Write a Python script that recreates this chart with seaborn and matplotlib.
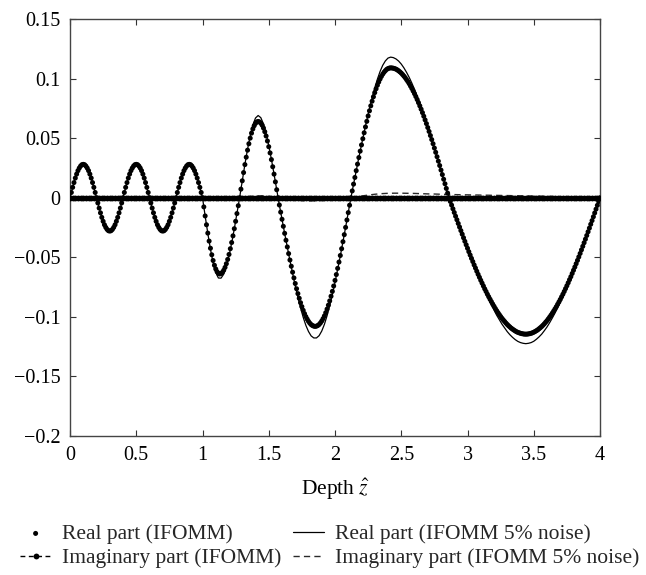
import numpy as np
import matplotlib
matplotlib.use("Agg")
import matplotlib.pyplot as plt
import seaborn as sns

# ---------------- data ----------------
# Real part (IFOMM), depth 0.00 .. 4.00, step 0.01
real_ifomm = [
    # 0.00 - 0.99
    0.0, 0.0044, 0.0087, 0.0127, 0.0165, 0.0198, 0.0227, 0.0249, 0.0266, 0.0277,
    0.0280, 0.0277, 0.0266, 0.0249, 0.0227, 0.0198, 0.0165, 0.0127, 0.0087, 0.0044,
    0.0, -0.0044, -0.0087, -0.0127, -0.0165, -0.0198, -0.0227, -0.0249, -0.0266, -0.0277,
    -0.0280, -0.0277, -0.0266, -0.0249, -0.0227, -0.0198, -0.0165, -0.0127, -0.0087, -0.0044,
    0.0, 0.0044, 0.0087, 0.0127, 0.0165, 0.0198, 0.0227, 0.0249, 0.0266, 0.0277,
    0.0280, 0.0277, 0.0266, 0.0249, 0.0227, 0.0198, 0.0165, 0.0127, 0.0087, 0.0044,
    0.0, -0.0044, -0.0087, -0.0127, -0.0165, -0.0198, -0.0227, -0.0249, -0.0266, -0.0277,
    -0.0280, -0.0277, -0.0266, -0.0249, -0.0227, -0.0198, -0.0165, -0.0127, -0.0087, -0.0044,
    0.0, 0.0044, 0.0087, 0.0127, 0.0165, 0.0198, 0.0227, 0.0249, 0.0266, 0.0277,
    0.0280, 0.0277, 0.0266, 0.0249, 0.0227, 0.0198, 0.0165, 0.0127, 0.0087, 0.0044,
    # 1.00
    0.0,
    # 1.01 - 1.28
    -0.0077, -0.0153, -0.0227, -0.0297, -0.0364, -0.0424, -0.0479, -0.0527, -0.0567, -0.0598,
    -0.0621, -0.0635, -0.0640,
    -0.0636, -0.0626, -0.0609, -0.0585, -0.0554, -0.0518, -0.0476, -0.0428, -0.0376, -0.0320,
    -0.0260, -0.0198, -0.0133, -0.0067, 0.0,
    # 1.29 - 1.57
    0.0072, 0.0142, 0.0211, 0.0278, 0.0340, 0.0399, 0.0453, 0.0500, 0.0542, 0.0577,
    0.0604, 0.0624, 0.0636, 0.0640,
    0.0636, 0.0626, 0.0609, 0.0585, 0.0554, 0.0518, 0.0476, 0.0428, 0.0376, 0.0320,
    0.0260, 0.0198, 0.0133, 0.0067, 0.0,
    # 1.58 - 2.12
    -0.0061, -0.0121, -0.0181, -0.0240, -0.0299, -0.0357, -0.0413, -0.0469, -0.0523, -0.0575,
    -0.0625, -0.0673, -0.0720, -0.0764, -0.0805, -0.0844, -0.0881, -0.0914, -0.0945, -0.0973,
    -0.0998, -0.1019, -0.1038, -0.1053, -0.1065, -0.1073, -0.1078, -0.1080,
    -0.1078, -0.1073, -0.1064, -0.1051, -0.1035, -0.1015, -0.0992, -0.0965, -0.0935, -0.0902,
    -0.0866, -0.0827, -0.0786, -0.0741, -0.0694, -0.0645, -0.0593, -0.0540, -0.0485, -0.0428,
    -0.0369, -0.0310, -0.0249, -0.0187, -0.0125, -0.0063, 0.0,
    # 2.13 - 2.86
    0.0057, 0.0114, 0.0170, 0.0227, 0.0282, 0.0337, 0.0391, 0.0443, 0.0495, 0.0545,
    0.0594, 0.0641, 0.0686, 0.0729, 0.0771, 0.0810, 0.0847, 0.0882, 0.0914, 0.0944,
    0.0971, 0.0996, 0.1018, 0.1037, 0.1053, 0.1066, 0.1077, 0.1084, 0.1088, 0.1090,
    0.1089, 0.1087, 0.1084, 0.1079, 0.1073, 0.1065, 0.1056, 0.1046, 0.1034, 0.1021,
    0.1007, 0.0991, 0.0975, 0.0957, 0.0937, 0.0917, 0.0895, 0.0873, 0.0849, 0.0824,
    0.0798, 0.0771, 0.0743, 0.0714, 0.0684, 0.0653, 0.0622, 0.0589, 0.0556, 0.0522,
    0.0488, 0.0453, 0.0417, 0.0381, 0.0344, 0.0307, 0.0270, 0.0232, 0.0194, 0.0155,
    0.0117, 0.0078, 0.0039, 0.0,
    # 2.87 - 4.00
    -0.0031, -0.0062, -0.0093, -0.0124, -0.0155, -0.0185, -0.0216, -0.0246, -0.0276, -0.0306,
    -0.0336, -0.0366, -0.0395, -0.0424, -0.0453, -0.0481, -0.0509, -0.0536, -0.0564, -0.0590,
    -0.0617, -0.0643, -0.0668, -0.0693, -0.0717, -0.0741, -0.0765, -0.0787, -0.0810, -0.0831,
    -0.0852, -0.0872, -0.0892, -0.0911, -0.0930, -0.0948, -0.0965, -0.0981, -0.0997, -0.1012,
    -0.1026, -0.1039, -0.1052, -0.1064, -0.1075, -0.1085, -0.1095, -0.1103, -0.1111, -0.1118,
    -0.1125, -0.1130, -0.1134, -0.1138, -0.1141, -0.1143, -0.1145, -0.1145,
    -0.1145, -0.1143, -0.1141, -0.1138, -0.1134, -0.1129, -0.1123, -0.1116, -0.1109, -0.1100,
    -0.1091, -0.1081, -0.1070, -0.1058, -0.1045, -0.1032, -0.1017, -0.1002, -0.0986, -0.0969,
    -0.0952, -0.0934, -0.0915, -0.0895, -0.0875, -0.0854, -0.0832, -0.0810, -0.0787, -0.0763,
    -0.0739, -0.0714, -0.0688, -0.0663, -0.0636, -0.0609, -0.0582, -0.0554, -0.0526, -0.0497,
    -0.0468, -0.0438, -0.0408, -0.0378, -0.0348, -0.0317, -0.0286, -0.0255, -0.0223, -0.0192,
    -0.0160, -0.0128, -0.0096, -0.0064, -0.0032, 0.0,
]

# Real part (IFOMM 5% noise), depth 0.00 .. 4.00, step 0.02
real_noise = [
    0.0, 0.0087, 0.0165, 0.0227, 0.0266, 0.0281, 0.0266, 0.0227, 0.0165, 0.0087,
    0.0, -0.0087, -0.0165, -0.0227, -0.0266, -0.0281, -0.0266, -0.0227, -0.0165, -0.0087,
    0.0, 0.0087, 0.0165, 0.0227, 0.0266, 0.0281, 0.0266, 0.0227, 0.0165, 0.0087,
    0.0, -0.0087, -0.0165, -0.0227, -0.0266, -0.0281, -0.0266, -0.0227, -0.0165, -0.0087,
    0.0, 0.0087, 0.0165, 0.0227, 0.0266, 0.0281, 0.0266, 0.0227, 0.0165, 0.0087,
    0.0,
    -0.0153, -0.0299, -0.0432, -0.0545, -0.0628, -0.0674, -0.0675, -0.0642, -0.0576, -0.0488,
    -0.0381, -0.0261, -0.0133, 0.0,
    0.0142, 0.0280, 0.0407, 0.0519, 0.0610, 0.0669, 0.0690, 0.0672, 0.0620, 0.0539,
    0.0438, 0.0323, 0.0198, 0.0067,
    -0.0061, -0.0181, -0.0300, -0.0415, -0.0528, -0.0636, -0.0740, -0.0836, -0.0925, -0.1004,
    -0.1071, -0.1123, -0.1160, -0.1177, -0.1177, -0.1158, -0.1119, -0.1063, -0.0991, -0.0907,
    -0.0814, -0.0711, -0.0602, -0.0489, -0.0370, -0.0249, -0.0125, 0.0,
    0.0114, 0.0227, 0.0338, 0.0445, 0.0551, 0.0652, 0.0747, 0.0837, 0.0921, 0.0995,
    0.1059, 0.1111, 0.1148, 0.1172, 0.1180,
    0.1176, 0.1165, 0.1147, 0.1122, 0.1090, 0.1052, 0.1010, 0.0962, 0.0910, 0.0853,
    0.0794, 0.0731, 0.0665, 0.0597, 0.0527, 0.0456, 0.0382, 0.0307, 0.0232, 0.0155,
    0.0078, 0.0,
    -0.0062, -0.0124, -0.0185, -0.0246, -0.0306, -0.0367, -0.0426, -0.0483, -0.0540, -0.0596,
    -0.0651, -0.0704, -0.0755, -0.0805, -0.0853, -0.0899, -0.0943, -0.0986, -0.1024, -0.1061,
    -0.1093, -0.1124, -0.1150, -0.1172, -0.1191, -0.1206, -0.1216, -0.1222, -0.1225,
    -0.1222, -0.1216, -0.1205, -0.1188, -0.1168, -0.1145, -0.1116, -0.1085, -0.1049, -0.1010,
    -0.0969, -0.0925, -0.0879, -0.0830, -0.0779, -0.0726, -0.0672, -0.0615, -0.0558, -0.0500,
    -0.0440, -0.0379, -0.0317, -0.0255, -0.0192, -0.0128, -0.0064, 0.0,
]

# Imaginary part (IFOMM), depth 0.00 .. 4.00, step 0.02
imag_ifomm = [
    0.0, 0.0, 0.0, 0.0, 0.0, 0.0, 0.0, 0.0, 0.0, 0.0, 0.0, 0.0, 0.0, 0.0, 0.0, 0.0, 0.0, 0.0, 0.0, 0.0,
    0.0, 0.0, 0.0, 0.0, 0.0, 0.0, 0.0, 0.0, 0.0, 0.0, 0.0, 0.0, 0.0, 0.0, 0.0, 0.0, 0.0, 0.0, 0.0, 0.0,
    0.0, 0.0, 0.0, 0.0, 0.0, 0.0, 0.0, 0.0, 0.0, 0.0, 0.0, 0.0, 0.0, 0.0, 0.0, 0.0, 0.0, 0.0, 0.0, 0.0,
    0.0, 0.0, 0.0, 0.0, 0.0, 0.0, 0.0, 0.0, 0.0, 0.0, 0.0, 0.0, 0.0, 0.0, 0.0, 0.0, 0.0, 0.0, 0.0, 0.0,
    0.0, 0.0, 0.0, 0.0, 0.0, 0.0, 0.0, 0.0, 0.0, 0.0, 0.0, 0.0, 0.0, 0.0, 0.0, 0.0, 0.0, 0.0, 0.0, 0.0,
    0.0, 0.0, 0.0, 0.0, 0.0, 0.0, 0.0, 0.0, 0.0, 0.0, 0.0, 0.0, 0.0, 0.0, 0.0, 0.0, 0.0, 0.0, 0.0, 0.0,
    0.0, 0.0, 0.0, 0.0, 0.0, 0.0, 0.0, 0.0, 0.0, 0.0, 0.0, 0.0, 0.0, 0.0, 0.0, 0.0, 0.0, 0.0, 0.0, 0.0,
    0.0, 0.0, 0.0, 0.0, 0.0, 0.0, 0.0, 0.0, 0.0, 0.0, 0.0, 0.0, 0.0, 0.0, 0.0, 0.0, 0.0, 0.0, 0.0, 0.0,
    0.0, 0.0, 0.0, 0.0, 0.0, 0.0, 0.0, 0.0, 0.0, 0.0, 0.0, 0.0, 0.0, 0.0, 0.0, 0.0, 0.0, 0.0, 0.0, 0.0,
    0.0, 0.0, 0.0, 0.0, 0.0, 0.0, 0.0, 0.0, 0.0, 0.0, 0.0, 0.0, 0.0, 0.0, 0.0, 0.0, 0.0, 0.0, 0.0, 0.0,
    0.0,
]

# Imaginary part (IFOMM 5% noise), depth 0.00 .. 4.00, step 0.05
imag_noise = [
    0.0, 0.0, 0.0, 0.0, 0.0, 0.0, 0.0, 0.0, 0.0, 0.0,
    0.0, 0.0, 0.0, 0.0, 0.0, 0.0, 0.0, 0.0, 0.0, 0.0,
    0.0, -0.0005, -0.0010, -0.0012, -0.0010, -0.0004, 0.0003, 0.0010, 0.0015, 0.0016,
    0.0012, 0.0004, -0.0006, -0.0014, -0.0020, -0.0024, -0.0026, -0.0026, -0.0024, -0.0020,
    -0.0014, -0.0008, -0.0002, 0.0005, 0.0014, 0.0022, 0.0029, 0.0034, 0.0037, 0.0038,
    0.0038, 0.0037, 0.0036, 0.0034, 0.0032, 0.0031, 0.0029, 0.0028, 0.0026, 0.0025,
    0.0024, 0.0023, 0.0022, 0.0021, 0.0020, 0.0019, 0.0018, 0.0017, 0.0016, 0.0015,
    0.0014, 0.0013, 0.0011, 0.0010, 0.0008, 0.0007, 0.0005, 0.0004, 0.0003, 0.0001,
    0.0,
]

depth_min, depth_max = 0.0, 4.0
x_ticks = [0, 0.5, 1, 1.5, 2, 2.5, 3, 3.5, 4]
x_tick_labels = ["0", "0.5", "1", "1.5", "2", "2.5", "3", "3.5", "4"]
y_ticks = [-0.2, -0.15, -0.1, -0.05, 0, 0.05, 0.1, 0.15]
y_tick_labels = ["\u22120.2", "\u22120.15", "\u22120.1", "\u22120.05", "0", "0.05", "0.1", "0.15"]
series_labels = ["Real part (IFOMM)", "Imaginary part (IFOMM)",
                 "Real part (IFOMM 5% noise)", "Imaginary part (IFOMM 5% noise)"]

assert len(real_ifomm) == 401, len(real_ifomm)
assert len(real_noise) == 201, len(real_noise)
assert len(imag_ifomm) == 201, len(imag_ifomm)
assert len(imag_noise) == 81, len(imag_noise)

# ---------------- figure ----------------
sns.set_theme(style="ticks")
plt.rcParams["font.family"] = ["Liberation Serif", "DejaVu Serif"]
plt.rcParams["mathtext.fontset"] = "stix"
plt.rcParams["axes.unicode_minus"] = True

W, H = 646, 575
fig = plt.figure(figsize=(W / 100, H / 100), dpi=100)
fig.patch.set_facecolor("white")
ax = fig.add_axes([70 / W, 1 - 436 / H, 530 / W, 417 / H])
ax.set_facecolor("white")

d_real = np.linspace(depth_min, depth_max, len(real_ifomm))
d_real_n = np.linspace(depth_min, depth_max, len(real_noise))
d_imag = np.linspace(depth_min, depth_max, len(imag_ifomm))
d_imag_n = np.linspace(depth_min, depth_max, len(imag_noise))

sns.lineplot(x=d_imag_n, y=imag_noise, ax=ax, color="#2a2a2a", lw=1.0,
             linestyle=(0, (4.5, 3)), label=series_labels[3], zorder=2)
sns.lineplot(x=d_real_n, y=real_noise, ax=ax, color="black", lw=0.9,
             label=series_labels[2], zorder=3)
sns.lineplot(x=d_imag, y=imag_ifomm, ax=ax, color="black", lw=1.0,
             linestyle=(0, (3.5, 2.5)), marker="o", markersize=4.2,
             markeredgewidth=0, markerfacecolor="black",
             label=series_labels[1], zorder=4)
sns.scatterplot(x=d_real, y=real_ifomm, ax=ax, color="black", s=13,
                linewidth=0, edgecolor="none", label=series_labels[0], zorder=5)

if ax.get_legend() is not None:
    ax.get_legend().remove()

ax.set_xlim(depth_min, depth_max)
ax.set_ylim(-0.2, 0.15)
ax.set_xticks(x_ticks)
ax.set_xticklabels(x_tick_labels)
ax.set_yticks(y_ticks)
ax.set_yticklabels(y_tick_labels)
ax.tick_params(direction="in", length=4, width=0.8, top=True, right=True,
               labelsize=14.5, pad=7, color="#333333", labelcolor="black")
for s in ax.spines.values():
    s.set_color("#444444")
    s.set_linewidth(1.0)
ax.grid(False)
ax.set_xlabel(r"Depth $\hat{z}$", fontsize=15.5, labelpad=9, color="black")
ax.set_ylabel("")

handles, labels = ax.get_legend_handles_labels()
order = [labels.index(l) for l in series_labels]
fig.legend([handles[i] for i in order], [labels[i] for i in order],
           ncol=2, loc="upper left", bbox_to_anchor=(20 / W, 1 - 524 / H),
           frameon=False, fontsize=15.5, handlelength=1.45, handletextpad=0.5,
           columnspacing=0.55, labelspacing=0.2, borderpad=0, borderaxespad=0,
           scatterpoints=1, numpoints=1)

fig.savefig("out.png", dpi=100, facecolor="white")
